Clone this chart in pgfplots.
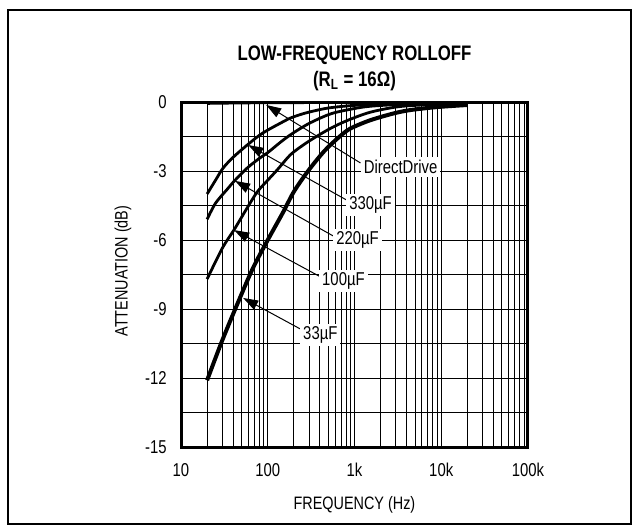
\documentclass[border=0pt]{standalone}
\usepackage{fontspec}
\setmainfont{Liberation Sans}[FakeStretch=0.8]
\usepackage{pgfplots}
\pgfplotsset{compat=1.18}
\usetikzlibrary{arrows.meta}
\begin{document}
\fontsize{9pt}{11pt}\selectfont
\begin{tikzpicture}
\useasboundingbox (0,0) rectangle (319.5pt,-265.5pt);
\draw[line width=1pt] (4pt,-5pt) rectangle (315.5pt,-262pt);
\node[font=\fontsize{10.5pt}{12pt}\selectfont\bfseries] at (177.25pt,-27.5pt) {LOW-FREQUENCY ROLLOFF};
\node[font=\fontsize{10.5pt}{12pt}\selectfont\bfseries] at (177.25pt,-40.5pt) {(R\textsubscript{L} = 16Ω)};
\begin{axis}[
  at={(90.5pt,-223.5pt)}, anchor=south west,
  width=173.5pt, height=172.5pt, scale only axis,
  xmode=log, xmin=10, xmax=100000, ymin=-15, ymax=0,
  xtick={10,100,1000,10000,100000},
  xticklabels={10,100,1k,10k,100k},
  minor xtick={20,30,40,50,60,70,80,90,200,300,400,500,600,700,800,900,2000,3000,4000,5000,6000,7000,8000,9000,20000,30000,40000,50000,60000,70000,80000,90000},
  ytick={-15,-12,-9,-6,-3,0},
  yticklabels={-15,-12,-9,-6,-3,0},
  minor ytick={-13.5,-10.5,-7.5,-4.5,-1.5},
  grid=both,
  major grid style={black, line width=0.5pt},
  minor grid style={black, line width=0.5pt},
  major tick length=0pt, minor tick length=0pt,
  axis line style={line width=1.5pt},
  tick label style={font=\fontsize{9.3pt}{10pt}\selectfont},
  xticklabel style={yshift=-5pt},
  yticklabel style={xshift=-4pt},
  label style={font=\fontsize{9pt}{10pt}\selectfont},
  xlabel={FREQUENCY (Hz)},
  ylabel={ATTENUATION (dB)},
  xlabel style={at={(axis description cs:0.5,-0.168)}, anchor=center},
  ylabel style={at={(axis description cs:-0.167,0.51)}, anchor=center},
]
% DirectDrive
\addplot[black, line width=1.4pt] coordinates {
(20,-0.06) (50,-0.04) (100,-0.03) (1000,-0.02) (10000,-0.03) (20000,-0.05)};
% 330uF
\addplot[black, line width=1.4pt, smooth] coordinates {
(20,-4.0) (25,-3.4) (30.6,-2.87) (40,-2.4) (58,-1.87) (80,-1.45) (100,-1.22) (140,-0.92) (182,-0.70) (250,-0.52) (339,-0.39) (500,-0.26) (830,-0.17) (1500,-0.11) (3000,-0.08) (10000,-0.06) (20000,-0.06)};
% 220uF
\addplot[black, line width=1.4pt, smooth] coordinates {
(20,-5.1) (25,-4.4) (34,-3.8) (42,-3.4) (58,-2.87) (80,-2.45) (100,-2.2) (140,-1.75) (182,-1.43) (250,-1.1) (339,-0.83) (570,-0.48) (1260,-0.22) (2500,-0.13) (5000,-0.09) (20000,-0.07)};
% 100uF
\addplot[black, line width=1.4pt, smooth] coordinates {
(20,-7.7) (30,-6.35) (41,-5.55) (58,-4.6) (76,-3.9) (100,-3.4) (128,-2.96) (182,-2.3) (250,-1.9) (340,-1.57) (527,-1.15) (830,-0.8) (1500,-0.45) (3000,-0.22) (6000,-0.13) (20000,-0.08)};
% 33uF
\addplot[black, line width=2pt, smooth] coordinates {
(20,-12.1) (30,-10.35) (48,-8.5) (68,-7.2) (100,-6.0) (150,-4.8) (200,-3.9) (285,-3.05) (400,-2.35) (500,-1.95) (700,-1.45) (900,-1.15) (1500,-0.8) (2800,-0.5) (4400,-0.35) (9000,-0.22) (20000,-0.13)};
% annotations
\begin{scope}[line width=0.5pt, -{Triangle[length=7.5pt,width=5pt]}]
\draw (axis cs:1172,-2.65) -- (axis cs:96,-0.13);
\draw (axis cs:809,-4.26) -- (axis cs:59.6,-1.87);
\draw (axis cs:572,-5.83) -- (axis cs:42,-3.43);
\draw (axis cs:404,-7.6) -- (axis cs:41,-5.57);
\draw (axis cs:238,-9.87) -- (axis cs:52,-8.52);
\end{scope}
\begin{scope}[every node/.style={fill=white, inner sep=1.5pt, font=\fontsize{9.3pt}{10pt}\selectfont}]
\node at (axis cs:3404,-2.83) {DirectDrive};
\node at (axis cs:1531,-4.48) {330µF};
\node at (axis cs:1084,-6.0) {220µF};
\node at (axis cs:746,-7.78) {100µF};
\node at (axis cs:404,-10.13) {33µF};
\end{scope}
\end{axis}
\end{tikzpicture}
\end{document}
